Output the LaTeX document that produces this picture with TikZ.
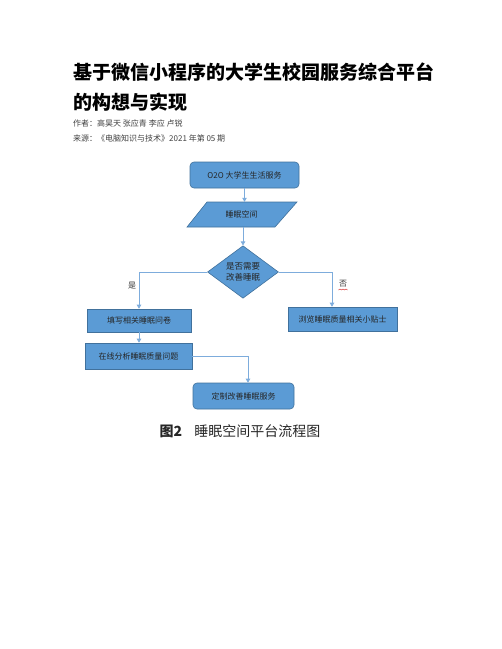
\documentclass[tikz,border=0pt]{standalone}
\usepackage{fontspec}
\setmainfont{Noto Sans CJK SC}
\usepackage{tikz}
\usetikzlibrary{shapes.geometric,arrows.meta}
\definecolor{boxblue}{RGB}{91,155,213}
\definecolor{boxline}{RGB}{65,113,156}
\definecolor{linkblue}{RGB}{125,172,220}

\begin{document}
\begin{tikzpicture}[x=1pt,y=-1pt,
  box/.style={draw=boxline,fill=boxblue,line width=0.6pt,inner sep=0pt,text=black!85,font=\fontsize{8}{11}\selectfont},
  roundbox/.style={box,rounded corners=4pt},
  link/.style={draw=linkblue,line width=0.7pt,-{Triangle[length=4pt,width=4.5pt]}}]
  \useasboundingbox (0,0) rectangle (502,649);

  % heading
  \node[anchor=west,inner sep=0pt,font=\fontsize{19}{22}\selectfont\bfseries] (title1) at (73,72) {基于微信小程序的大学生校园服务综合平台};
  \node[anchor=west,inner sep=0pt,font=\fontsize{19}{22}\selectfont\bfseries] (title2) at (73,102) {的构想与实现};
  \node[anchor=west,inner sep=0pt,text=black!75,font=\fontsize{8}{9}\selectfont] (author) at (73,123) {作者：高昊天 张应青 李应 卢锐};
  \node[anchor=west,inner sep=0pt,text=black!75,font=\fontsize{8}{9}\selectfont] (source) at (73,138) {来源：《电脑知识与技术》2021 年第 05 期};

  % flow chart
  \node[roundbox,minimum width=109pt,minimum height=26pt] (o2o) at (244.5,175) {O2O 大学生生活服务};
  \draw[draw=boxline,fill=boxblue,line width=0.6pt] (207,202) -- (297,202) -- (275,227) -- (187,227) -- cycle;
  \node[inner sep=0pt,minimum width=70pt,minimum height=25pt,text=black!85,font=\fontsize{8}{11}\selectfont] (space) at (241.5,214.5) {睡眠空间};
  \node[box,diamond,minimum width=71pt,minimum height=50pt,align=center,font=\fontsize{8.5}{11}\selectfont] (ask) at (243,272) {是否需要\\改善睡眠};
  \node[box,minimum width=104pt,minimum height=23pt] (fill) at (139,320.5) {填写相关睡眠问卷};
  \node[box,minimum width=109pt,minimum height=24pt] (tips) at (342.5,319) {浏览睡眠质量相关小贴士};
  \node[box,minimum width=107pt,minimum height=26pt] (analysis) at (138.5,356) {在线分析睡眠质量问题};
  \node[roundbox,minimum width=101pt,minimum height=26pt] (custom) at (243.5,396) {定制改善睡眠服务};

  \draw[link] (o2o.south) -- (o2o.south |- space.north);
  \draw[link] (ask.north |- space.south) -- (ask.north);
  \draw[link] (ask.west) -| (fill.north);
  \draw[link] (ask.east) -| ([xshift=-10.5pt]tips.north);
  \draw[link] (fill.south) -- (fill.south |- analysis.north);
  \draw[link] (analysis.east) -| ([xshift=4.5pt]custom.north);

  \node[text=black!80,font=\fontsize{8}{10}\selectfont] (yes) at (132,286) {是};
  \node[text=black!80,font=\fontsize{8}{10}\selectfont] (no) at (343,284) {否};
  \draw[red!80!black,line width=0.4pt] (338.5,290) -- (340,289) -- (341.5,290) -- (343,289) -- (344.5,290) -- (346,289) -- (347.5,290);

  % caption
  \node[text=black!85,font=\fontsize{14}{16}\selectfont] (caption) at (240,431) {{\bfseries 图2}\hspace{12pt}睡眠空间平台流程图};
\end{tikzpicture}
\end{document}
